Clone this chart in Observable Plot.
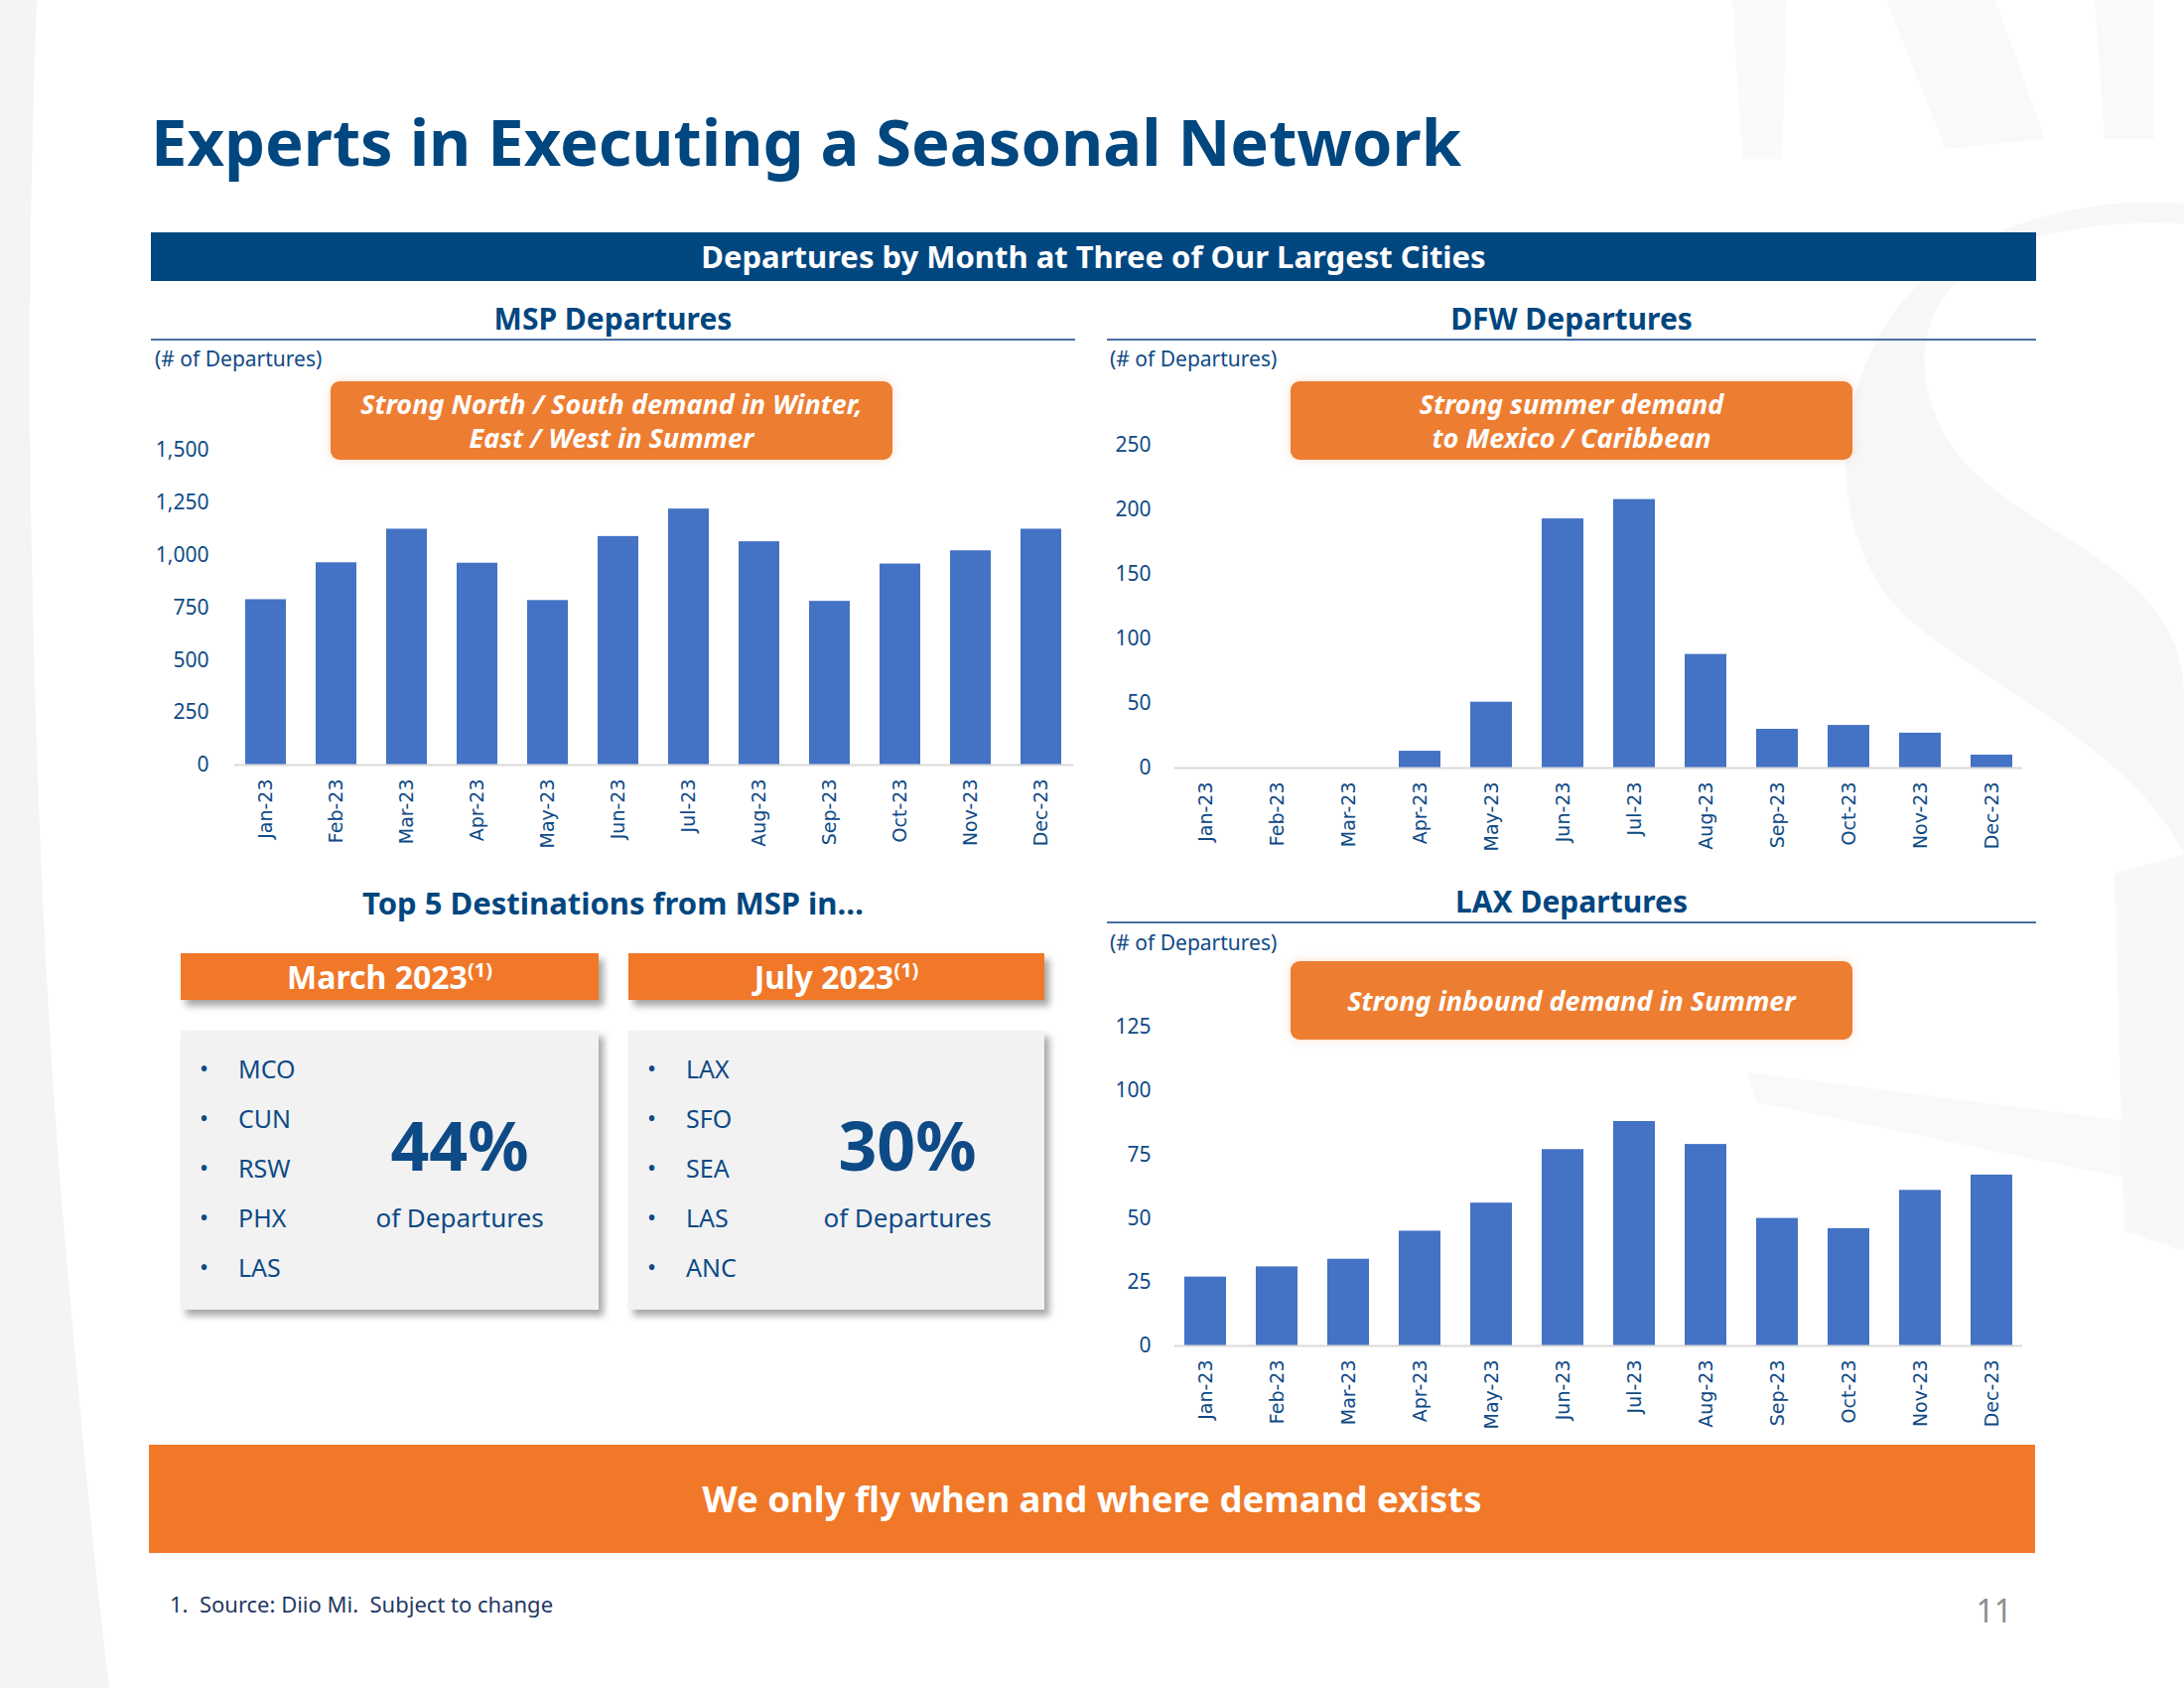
<!DOCTYPE html>
<html>
<head>
<meta charset="utf-8">
<script src="https://cdn.jsdelivr.net/npm/d3@7"></script>
<script src="https://cdn.jsdelivr.net/npm/@observablehq/plot@0.6"></script>
<style>
  html, body { margin: 0; padding: 0; background: #ffffff; }
  #slide { position: relative; width: 2200px; height: 1700px; overflow: hidden; background: #ffffff; font-family: "Noto Sans", sans-serif; color: #0E4A86; }
  .abs { position: absolute; }
  .title { left: 152px; top: 106px; font-size: 65px; font-weight: 700; color: #00467F; line-height: 72px; white-space: nowrap; }
  .banner { left: 152px; top: 234px; width: 1899px; height: 49px; background: #00467F; color: #fff; font-weight: 700; font-size: 31px; text-align: center; line-height: 49px; }
  .ctitle { font-size: 30px; font-weight: 700; color: #00467F; text-align: center; height: 42px; line-height: 42px; }
  .uline { height: 2px; background: #4A6FA5; }
  .unit { font-size: 21px; color: #0E4A86; }
  .callout { background: #ED7D31; color: #fff; font-weight: 700; font-style: italic; font-size: 27px; line-height: 34px; border-radius: 9px; display: flex; align-items: center; justify-content: center; text-align: center; box-shadow: 0 0 10px rgba(237,125,49,0.25); }
  .obox { background: #F07828; color: #fff; font-weight: 700; font-size: 32px; text-align: center; line-height: 47px; height: 47px; box-shadow: 5px 6px 7px rgba(0,0,0,0.35); }
  .obox sup { font-size: 20px; vertical-align: 0; position: relative; top: -12px; }
  .gbox { background: #F2F2F2; height: 281px; box-shadow: 5px 6px 7px rgba(0,0,0,0.35); }
  .item { font-size: 25px; color: #0E4A86; line-height: 30px; }
  .dot { font-size: 24px; color: #0E4A86; line-height: 30px; }
  .big { font-size: 68px; font-weight: 700; color: #0E4A86; text-align: center; line-height: 80px; }
  .sub { font-size: 26px; color: #0E4A86; text-align: center; line-height: 30px; }
  .bottom { left: 150px; top: 1455px; width: 1900px; height: 109px; background: #F07828; color: #fff; font-size: 36.5px; font-weight: 700; text-align: center; line-height: 109px; }
  .foot { left: 171px; top: 1600px; font-size: 22px; color: #1F3864; white-space: pre; }
  .page { left: 1975px; top: 1600px; width: 52px; text-align: right; font-size: 32px; color: #8C8C8C; }
  .chart { position: absolute; }
</style>
</head>
<body>
<div id="slide">
  <svg class="abs" style="left:0;top:0" width="2200" height="1700">
    <path d="M0,0 L37,0 Q26,300 32,560 Q40,980 70,1300 Q92,1550 110,1700 L0,1700 Z" fill="#F4F4F4"/>
    <path d="M1745,0 L1800,0 L1795,160 L1755,160 Z" fill="#FAFAFA"/>
    <path d="M1900,0 L2010,0 L2060,140 L1960,150 Z" fill="#F9F9F9"/>
    <path d="M2110,0 L2170,0 L2170,140 L2120,140 Z" fill="#F9F9F9"/>
    <path d="M2200,225 C1960,215 1900,330 1960,440 C2020,540 2200,560 2200,700 L2200,860 C2150,760 2020,700 1930,630 C1820,540 1840,330 1980,250 C2060,205 2150,200 2200,205 Z" fill="#F7F7F7"/>
    <path d="M1760,1080 L2150,1130 L2160,1190 L1770,1110 Z" fill="#F9F9F9"/>
    <path d="M2130,880 L2200,860 L2200,1260 L2140,1240 Z" fill="#F8F8F8"/>
  </svg>

  <div class="abs title">Experts in Executing a Seasonal Network</div>
  <div class="abs banner">Departures by Month at Three of Our Largest Cities</div>

  <div class="abs ctitle" style="left:152px;top:300px;width:931px;">MSP Departures</div>
  <div class="abs uline" style="left:152px;top:341px;width:931px;"></div>
  <div class="abs unit" style="left:156px;top:347px;">(# of Departures)</div>

  <div class="abs ctitle" style="left:1115px;top:300px;width:936px;">DFW Departures</div>
  <div class="abs uline" style="left:1115px;top:341px;width:936px;"></div>
  <div class="abs unit" style="left:1118px;top:347px;">(# of Departures)</div>

  <div class="abs ctitle" style="left:1115px;top:887px;width:936px;">LAX Departures</div>
  <div class="abs uline" style="left:1115px;top:928px;width:936px;"></div>
  <div class="abs unit" style="left:1118px;top:935px;">(# of Departures)</div>

  <div id="msp" class="chart" style="left:152px;top:420px;"></div>
  <div id="dfw" class="chart" style="left:1115px;top:420px;"></div>
  <div id="lax" class="chart" style="left:1115px;top:1005px;"></div>

  <div class="abs callout" style="left:333px;top:384px;width:566px;height:79px;">Strong North / South demand in Winter,<br>East / West in Summer</div>
  <div class="abs callout" style="left:1300px;top:384px;width:566px;height:79px;">Strong summer demand<br>to Mexico / Caribbean</div>
  <div class="abs callout" style="left:1300px;top:968px;width:566px;height:79px;">Strong inbound demand in Summer</div>

  <div class="abs ctitle" style="left:152px;top:888px;width:931px;font-size:31px;">Top 5 Destinations from MSP in…</div>

  <div class="abs obox" style="left:182px;top:960px;width:421px;">March 2023<sup>(1)</sup></div>
  <div class="abs obox" style="left:633px;top:960px;width:419px;">July 2023<sup>(1)</sup></div>

  <div id="boxMar" class="abs gbox" style="left:182px;top:1038px;width:421px;"></div>
  <div id="boxJul" class="abs gbox" style="left:633px;top:1038px;width:419px;"></div>

  <div class="abs bottom">We only fly when and where demand exists</div>
  <div class="abs foot">1.  Source: Diio Mi.  Subject to change</div>
  <div class="abs page">11</div>
</div>

<script>
// ---- Data ----
const months = ["Jan-23","Feb-23","Mar-23","Apr-23","May-23","Jun-23","Jul-23","Aug-23","Sep-23","Oct-23","Nov-23","Dec-23"];
const mspValues = [788, 964, 1124, 962, 784, 1089, 1220, 1064, 780, 958, 1021, 1124];
const dfwValues = [0, 0, 0, 13, 51, 193, 208, 88, 30, 33, 27, 10];
const laxValues = [27, 31, 34, 45, 56, 77, 88, 79, 50, 46, 61, 67];
const mspTicks = [0, 250, 500, 750, 1000, 1250, 1500];
const dfwTicks = [0, 50, 100, 150, 200, 250];
const laxTicks = [0, 25, 50, 75, 100, 125];

const marchDest = ["MCO", "CUN", "RSW", "PHX", "LAS"];
const julyDest = ["LAX", "SFO", "SEA", "LAS", "ANC"];
const marchShare = "44%";
const julyShare = "30%";

// ---- Charts ----
function barChart(values, ticks, opts) {
  const data = months.map((m, i) => ({month: m, value: values[i]}));
  return Plot.plot({
    width: opts.width,
    height: opts.height,
    marginLeft: opts.marginLeft,
    marginRight: opts.marginRight,
    marginTop: opts.marginTop,
    marginBottom: opts.marginBottom,
    style: {background: "transparent", color: "#0E4A86", overflow: "visible"},
    x: {domain: months, paddingInner: 0.42, paddingOuter: 0.14},
    y: {domain: [ticks[0], ticks[ticks.length - 1]]},
    marks: [
      Plot.barY(data, {x: "month", y: "value", fill: "#4472C4"}),
      Plot.ruleY([0], {stroke: "#D9D9D9", strokeWidth: 2}),
      Plot.axisY({ticks: ticks, tickFormat: d3.format(","), tickSize: 0, tickPadding: opts.yPad, fontSize: 21, fontFamily: "Noto Sans", label: null}),
      Plot.axisX({tickSize: 0, tickPadding: 14, tickRotate: -90, fontSize: 19, fontFamily: "DejaVu Sans", label: null})
    ]
  });
}

document.getElementById("msp").append(barChart(mspValues, mspTicks,
  {width: 931, height: 450, marginLeft: 84, marginRight: 2, marginTop: 33, marginBottom: 100, yPad: 26}));
document.getElementById("dfw").append(barChart(dfwValues, dfwTicks,
  {width: 936, height: 453, marginLeft: 68, marginRight: 14, marginTop: 28, marginBottom: 100, yPad: 24}));
document.getElementById("lax").append(barChart(laxValues, laxTicks,
  {width: 936, height: 450, marginLeft: 68, marginRight: 14, marginTop: 29, marginBottom: 100, yPad: 24}));

// ---- Destination boxes ----
function fillBox(id, list, share) {
  const box = document.getElementById(id);
  list.forEach((code, i) => {
    const top = 38 + i * 50 - 15;
    const dot = document.createElement("div");
    dot.className = "abs dot";
    dot.style.left = "19px"; dot.style.top = top + "px";
    dot.textContent = "•";
    box.append(dot);
    const t = document.createElement("div");
    t.className = "abs item";
    t.style.left = "58px"; t.style.top = top + "px";
    t.textContent = code;
    box.append(t);
  });
  const big = document.createElement("div");
  big.className = "abs big";
  big.style.left = "181px"; big.style.width = "200px"; big.style.top = "75px";
  big.textContent = share;
  box.append(big);
  const sub = document.createElement("div");
  sub.className = "abs sub";
  sub.style.left = "161px"; sub.style.width = "240px"; sub.style.top = "173px";
  sub.textContent = "of Departures";
  box.append(sub);
}
fillBox("boxMar", marchDest, marchShare);
fillBox("boxJul", julyDest, julyShare);
</script>
</body>
</html>
